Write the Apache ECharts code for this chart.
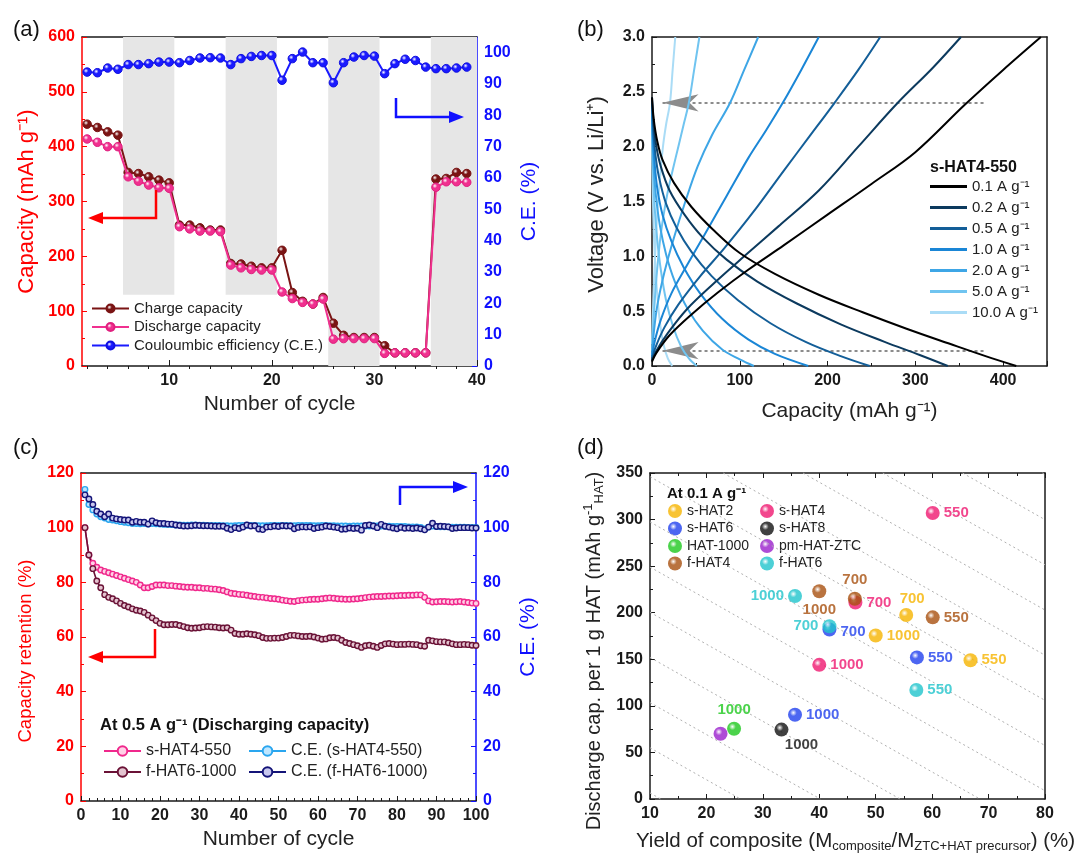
<!DOCTYPE html>
<html><head><meta charset="utf-8">
<script src="https://cdn.jsdelivr.net/npm/echarts@6/dist/echarts.min.js"></script>
<style>html,body{margin:0;padding:0;background:#fff}#c{width:1080px;height:854px}</style>
</head><body><div id="c"></div>
<script>
const FONT = "'Liberation Sans', Arial, sans-serif";

// ---------- Panel (a) ----------
const cyclesA = [2,3,4,5,6,7,8,9,10,11,12,13,14,15,16,17,18,19,20,21,22,23,24,25,26,27,28,29,30,31,32,33,34,35,36,37,38,39];
const chargeA = [441,435,427,421, 353,351,345,339,334, 257,257,252,248,248, 187,186,182,179,179, 211,134,118,113,125, 78,56,52,52,52, 37,24,24,24,24, 341,342,353,351];
const dischargeA = [414,408,400,400, 345,337,330,325,324, 254,250,246,246,245, 184,179,176,175,175, 135,123,116,113,122, 49,50,50,50,50, 23,24,24,24,24, 326,336,336,335];
const ceA = [93.8,93.6,95.1,94.7, 96.2,96.2,96.5,97.0,97.0, 96.8,97.5,98.3,98.4,98.3, 96.2,98.1,98.8,99.1,99.1, 91.2,98.1,100.2,96.8,96.8, 90.4,96.8,98.6,99.1,98.9, 93.3,96.5,97.9,97.5,95.4, 94.9,94.9,95.1,95.4];
const rateLabelsA = ['0.1','0.2','0.5','1.0','2.0','5.0','10.0','0.1 A g⁻¹'];
const rateLabelCycleA = [3.3, 8, 13, 18, 23, 28, 33, 37.4];
const greyBandsA = [[5.5,10.5],[15.5,20.5],[25.5,30.5],[35.5,40]];
const xTicksA = [10,20,30,40];

// ---------- Panel (b) ----------
const ratesB = ['0.1 A g⁻¹','0.2 A g⁻¹','0.5 A g⁻¹','1.0 A g⁻¹','2.0 A g⁻¹','5.0 A g⁻¹','10.0 A g⁻¹'];
const chargeB = [
 [[0,0.04],[5,0.12],[20,0.28],[45,0.47],[75,0.67],[110,0.88],[150,1.1],[200,1.38],[250,1.66],[300,1.95],[356,2.38],[400,2.7],[443,3.0]],
 [[0,0.05],[5,0.14],[18,0.3],[40,0.52],[70,0.75],[105,1.0],[145,1.28],[190,1.6],[235,2.0],[280,2.4],[320,2.72],[352,3.0]],
 [[0,0.06],[4,0.17],[14,0.35],[30,0.56],[55,0.82],[82,1.07],[115,1.4],[150,1.78],[180,2.1],[208,2.4],[235,2.7],[260,3.0]],
 [[0,0.08],[3,0.22],[10,0.42],[22,0.66],[40,0.92],[60,1.2],[85,1.55],[110,1.9],[130,2.15],[149,2.4],[170,2.7],[190,3.0]],
 [[0,0.1],[2,0.3],[6,0.55],[14,0.85],[25,1.17],[38,1.5],[52,1.82],[68,2.1],[89,2.4],[105,2.7],[121,3.0]],
 [[0,0.14],[2,0.45],[5,0.8],[10,1.2],[17,1.55],[24,1.8],[30,2.0],[36,2.2],[42,2.4],[48,2.7],[54,3.0]],
 [[0,0.2],[1.5,0.6],[3.5,1.0],[6,1.4],[9,1.7],[12.5,2.0],[16,2.2],[20.5,2.4],[23.5,2.7],[26.5,3.0]]
];
const dischargeB = [
 [[0,2.45],[2,2.25],[6,2.05],[12,1.88],[25,1.67],[45,1.45],[70,1.24],[100,1.03],[140,0.84],[190,0.65],[240,0.49],[290,0.34],[340,0.2],[380,0.09],[415,0]],
 [[0,2.45],[2,2.2],[5,2.0],[10,1.82],[20,1.6],[37,1.38],[58,1.17],[85,0.97],[120,0.77],[165,0.57],[215,0.38],[265,0.22],[305,0.1],[337,0]],
 [[0,2.42],[1.5,2.15],[4,1.92],[8,1.72],[16,1.48],[28,1.26],[45,1.04],[68,0.82],[98,0.6],[135,0.39],[175,0.22],[215,0.09],[248,0]],
 [[0,2.4],[1,2.1],[3,1.85],[6,1.62],[12,1.38],[22,1.14],[36,0.9],[55,0.66],[80,0.43],[110,0.24],[140,0.11],[178,0]],
 [[0,2.35],[0.7,2.05],[2,1.8],[4.5,1.55],[9,1.28],[16,1.02],[26,0.77],[40,0.53],[58,0.32],[80,0.15],[100,0.06],[116,0]],
 [[0,2.3],[0.5,2.0],[1.5,1.72],[3,1.45],[6,1.15],[10,0.88],[16,0.6],[24,0.36],[33,0.18],[42,0.07],[51,0]],
 [[0,2.2],[0.4,1.85],[1,1.55],[2,1.25],[3.5,0.95],[6,0.65],[9,0.4],[13,0.2],[18,0.07],[23,0]]
];
const arrowLevelsB = [2.4, 0.14];
const arrowSpanB = [12, 380];

// ---------- Panel (c) ----------
const cyclesC = Array.from({length:100},(_,i)=>i+1);
const retS = [100,90,87,85.5,84.5,84,83.5,83,82.5,82, 81.5,81,80.5,80,79,78,78,78.5,79,79, 79,78.8,78.8,78.6,78.5,78.3,78.2,78.2,78,78, 77.8,77.8,77.6,77.5,77.3,77,76.5,76,75.8,75.6, 75.5,75.3,75,74.8,74.6,74.5,74.3,74.1,74,73.8, 73.5,73.3,73.1,73,73.3,73.5,73.6,73.7,73.8,73.8, 74,74.2,74.3,74.2,74,73.9,73.8,73.8,73.9,74, 74.2,74.4,74.6,74.7,74.8,74.8,74.9,75,75,75.1, 75.2,75.2,75.3,75.3,75.4,75.4,74.5,73.2,72.8,72.9, 73,73,72.9,72.8,72.9,73,72.8,72.6,72.4,72.3];
const retF = [100,90,85,80.5,78,75.5,74.5,74,73.2,72.3, 71.5,71,70.3,69.8,69.5,69,68,67,66,65, 64.5,64.5,64.6,64.6,64.2,63.8,63.4,63.2,63.3,63.4, 63.7,63.8,63.7,63.6,63.4,63.3,63.4,62.5,61.3,61, 61,61.2,61,60.8,60.5,59.8,59.5,59.5,59.6,59.6, 59.8,60.2,60.6,60.6,60.4,60.2,60.2,60.3,60,59.6, 59.2,59.3,59.7,59.8,59.6,58.8,58,57.6,57.2,56.8, 56.2,56.8,57,56.6,56.2,56.9,57.5,57.6,57.4,57.2, 57.3,57.3,57.4,57.3,57.2,56.8,56.6,58.8,58.6,58.3, 58.2,58.2,57.9,57.5,57.2,57.2,57.3,57.2,57,56.9];
const ceS = [114,108.5,106.5,105,104,103.5,103,102.8,102.5,102.2, 102,101.8,101.5,101.5,101.4,101.5,101.3,101.5,101.4,101.3, 101.2,101.2,101.1,101,101,100.9,100.9,101,101,100.9, 100.9,100.8,100.8,100.8,100.8,100.7,100.7,100.6,100.7,100.8, 100.8,100.9,100.8,100.8,100.7,100.7,100.7,100.8,100.8,100.8, 100.8,100.8,100.7,100.7,100.8,100.8,100.8,100.8,100.7,100.7, 100.8,100.8,100.7,100.7,100.6,100.6,100.6,100.5,100.6,100.6, 100.6,100.6,100.6,100.7,100.6,100.6,100.5,100.5,100.4,100.4, 100.4,100.4,100.3,100.3,100.3,100.1,99.5,100.2,100.6,100.4, 100.3,100.3,100.3,100.2,100.2,100.2,100.2,100.1,100.1,100.1];
const ceF = [112,110.5,108.5,106,105,104,105,103.5,103.2,103, 102.8,102.8,102,102.3,102,102,101.3,102.5,101.8,101.5, 101.5,101.3,101.3,101,100.8,100.6,100.6,100.7,100.9,100.8, 100.7,100.7,100.6,100.5,100.5,100.5,99.8,99.3,100,99.7, 100.2,101,100.6,100.7,99.5,99.3,100.2,100.3,100.6,100.4, 100.7,100.6,100.6,99.6,100.1,100.3,100.2,100.3,99.7,100, 100.2,100.6,100.4,100.2,100,99.4,99.5,99.9,99.7,99.8, 99.1,100.8,101,100.6,100,101.2,100.5,100.2,99.9,99.6, 100.1,99.8,99.9,99.7,99.9,99.6,99.2,100.2,101.6,100.4, 100.5,100.4,100.3,99.7,99.9,100,100,100,99.9,99.9];

// ---------- Panel (d) ----------
const groupsD = ['s-HAT2','s-HAT4','s-HAT6','s-HAT8','HAT-1000','pm-HAT-ZTC','f-HAT4','f-HAT6'];
const yieldD = {
 's-HAT2':[55.4,50.0,66.8], 's-HAT4':[60.1,46.4,40.0], 's-HAT6':[41.8,57.3,35.7], 's-HAT8':[33.3],
 'HAT-1000':[24.9], 'pm-HAT-ZTC':[22.5], 'f-HAT4':[40.0,46.3,60.1], 'f-HAT6':[35.7,41.8,57.2]
};
const capD = {
 's-HAT2':[197.5,175.5,149], 's-HAT4':[307,211,144], 's-HAT6':[182,152,90.5], 's-HAT8':[74.5],
 'HAT-1000':[75.5], 'pm-HAT-ZTC':[70], 'f-HAT4':[223,215,195], 'f-HAT6':[218,185.5,117]
};
const tempD = {
 's-HAT2':['700','1000','550'], 's-HAT4':['550','700','1000'], 's-HAT6':['700','550','1000'], 's-HAT8':['1000'],
 'HAT-1000':['1000'], 'pm-HAT-ZTC':[''], 'f-HAT4':['1000','700','550'], 'f-HAT6':['1000','700','550']
};
const guideInterceptsD = [6.5,55,103.5,152,200.5,249,297.5,346,394.5,443,491.5,540,588.5];
const guideSlopeD = -3.43;

// ---------- styles ----------
const colD = {'s-HAT2':'#f6b400','s-HAT4':'#ef1870','s-HAT6':'#2040ee','s-HAT8':'#111111','HAT-1000':'#1ec81e','pm-HAT-ZTC':'#9a20cc','f-HAT4':'#a8500f','f-HAT6':'#20c4cc'};
const labelPosD = {
 's-HAT2':[{position:'top',offset:[6,2]},{position:'right'},{position:'right'}],
 's-HAT4':[{position:'right'},{position:'right'},{position:'right'}],
 's-HAT6':[{position:'right',offset:[0,2]},{position:'right'},{position:'right'}],
 's-HAT8':[{position:'bottom',offset:[20,-3]}],
 'HAT-1000':[{position:'top'}],
 'pm-HAT-ZTC':[{position:'top'}],
 'f-HAT4':[{position:'bottom'},{position:'top'},{position:'right'}],
 'f-HAT6':[{position:'left'},{position:'left'},{position:'right'}]
};
const colB = ['#000000','#0c3a5e','#135e98','#1a86d6','#3ea6e6','#70c4f0','#aadcf6'];
const RED='#ff0000', BLUE='#1010ff', DARK='#1a1a1a';

function ball(c){
  return {type:'radial',x:0.38,y:0.36,r:0.7,colorStops:[{offset:0,color:'#ffffff'},{offset:0.35,color:c},{offset:1,color:c}]};
}
const tickLbl = (color)=>({fontSize:16,fontWeight:'bold',color:color,fontFamily:FONT,margin:7});
const nameStyle = (color,size)=>({fontSize:size||21,color:color,fontFamily:FONT});

function xAx(grid, o){
  return Object.assign({gridIndex:grid,type:'value',splitLine:{show:false},
    axisLine:{onZero:false,lineStyle:{color:DARK,width:1.5}},
    axisTick:{inside:true,length:5,lineStyle:{color:DARK}},
    minorTick:{show:false},
    axisLabel:tickLbl(DARK)}, o);
}

const series = [];
// (a) bands
series.push({type:'line',xAxisIndex:0,yAxisIndex:0,data:[],z:0,silent:true,
  markArea:{silent:true,itemStyle:{color:'#e6e6e6'},data:greyBandsA.map((b,i)=>[{xAxis:b[0],yAxis:i<2?130:0},{xAxis:b[1],yAxis:600}])}});
series.push({name:'Charge capacity',type:'line',xAxisIndex:0,yAxisIndex:0,data:cyclesA.map((c,i)=>[c,chargeA[i]]),
  symbol:'circle',symbolSize:8.5,lineStyle:{color:'#7a1414',width:2},itemStyle:{color:ball('#7a1414'),borderColor:'#7a1414',borderWidth:1},z:3});
series.push({name:'Discharge capacity',type:'line',xAxisIndex:0,yAxisIndex:0,data:cyclesA.map((c,i)=>[c,dischargeA[i]]),
  symbol:'circle',symbolSize:8.5,lineStyle:{color:'#f0308f',width:2},itemStyle:{color:ball('#f0308f'),borderColor:'#e0207f',borderWidth:1},z:4});
series.push({name:'Couloumbic efficiency (C.E.)',type:'line',xAxisIndex:0,yAxisIndex:1,data:cyclesA.map((c,i)=>[c,ceA[i]]),
  symbol:'circle',symbolSize:8.5,lineStyle:{color:'#1a1aff',width:2},itemStyle:{color:ball('#1a1aff'),borderColor:'#1010e0',borderWidth:1},z:4});
series.push({type:'scatter',xAxisIndex:0,yAxisIndex:0,symbolSize:1,itemStyle:{opacity:0},silent:true,
  data:rateLabelCycleA.map((x,i)=>[x,512,rateLabelsA[i]]),
  label:{show:true,position:'inside',formatter:p=>p.data[2],fontSize:12,fontWeight:'bold',color:'#111',fontFamily:FONT}});

// (b)
ratesB.forEach((r,i)=>{
  series.push({name:r,type:'line',xAxisIndex:2,yAxisIndex:2,data:chargeB[i],smooth:0.35,symbol:'none',
    lineStyle:{color:colB[i],width:2},itemStyle:{color:colB[i]},z:10-i});
  series.push({name:r,type:'line',xAxisIndex:2,yAxisIndex:2,data:dischargeB[i],smooth:0.35,symbol:'none',
    lineStyle:{color:colB[i],width:2},itemStyle:{color:colB[i]},z:10-i});
});
series.push({type:'line',xAxisIndex:2,yAxisIndex:2,data:[],silent:true,z:12,
  markLine:{silent:true,symbol:['arrow','none'],symbolSize:[13,36],label:{show:false},
    lineStyle:{color:'#8c8c8c',type:[3,3],width:2},itemStyle:{color:'#8c8c8c'},
    data:arrowLevelsB.map(v=>[{coord:[arrowSpanB[0],v]},{coord:[arrowSpanB[1],v]}])}});

// (c)
const mk = (name,data,yi,color,fill,w)=>({name,type:'line',xAxisIndex:4,yAxisIndex:yi,data:cyclesC.map((c,i)=>[c,data[i]]),
  symbol:'circle',symbolSize:5.5,lineStyle:{color,width:w||1.6},itemStyle:{color:fill,borderColor:color,borderWidth:1.4}});
series.push(mk('C.E. (s-HAT4-550)',ceS,5,'#2aa6ef','#bfe6ff'));
series.push(mk('C.E. (f-HAT6-1000)',ceF,5,'#141478','#c8c8ee'));
series.push(mk('s-HAT4-550',retS,4,'#f0288c','#ffd0e6'));
series.push(mk('f-HAT6-1000',retF,4,'#6a1236','#e4c4d0'));

// (d) guide lines
function clipGuide(b){
  const s=guideSlopeD;
  const yAt=x=>b+s*(x-10);
  let x0=10,y0=yAt(10); if(y0>350){x0=10+(350-b)/s;y0=350;}
  let x1=80,y1=yAt(80); if(y1<0){x1=10+(0-b)/s;y1=0;}
  return [{coord:[x0,y0]},{coord:[x1,y1]}];
}
series.push({type:'line',xAxisIndex:6,yAxisIndex:6,data:[],silent:true,z:1,
  markLine:{silent:true,symbol:['none','none'],label:{show:false},animation:false,
    lineStyle:{color:'#b0b0b0',type:[2,3],width:1},
    data:guideInterceptsD.filter(b=>b>0).map(clipGuide).filter(d=>d[0].coord[0]<d[1].coord[0])}});
groupsD.forEach(g=>{
  series.push({name:g,type:'scatter',xAxisIndex:6,yAxisIndex:6,symbol:'circle',symbolSize:14,z:5,
    itemStyle:{color:ball(colD[g])},
    data:yieldD[g].map((x,i)=>({value:[x,capD[g][i]],name:tempD[g][i],label:labelPosD[g][i]})),
    label:{show:true,formatter:'{b}',fontSize:15,fontWeight:'bold',color:colD[g],fontFamily:FONT,distance:4}});
});

const legBase = {orient:'vertical',padding:0,selectedMode:false};
const option = {
  animation:false,
  backgroundColor:'#fff',
  textStyle:{fontFamily:FONT},
  title:[
    {text:'(a)',left:8,top:14,textStyle:{fontSize:22,fontWeight:'normal',color:'#111'}},
    {text:'(b)',left:572,top:14,textStyle:{fontSize:22,fontWeight:'normal',color:'#111'}},
    {text:'(c)',left:8,top:432,textStyle:{fontSize:22,fontWeight:'normal',color:'#111'}},
    {text:'(d)',left:572,top:432,textStyle:{fontSize:22,fontWeight:'normal',color:'#111'}},
    {text:'s-HAT4-550',left:925,top:155,textStyle:{fontSize:16,fontWeight:'bold',color:'#111'}},
    {text:'At 0.5 A g⁻¹ (Discharging capacity)',left:95,top:712,textStyle:{fontSize:16.5,fontWeight:'bold',color:'#111'}},
    {text:'At 0.1 A g⁻¹',left:662,top:481,textStyle:{fontSize:15,fontWeight:'bold',color:'#111'}}
  ],
  legend:[
    Object.assign({data:['Charge capacity','Discharge capacity','Couloumbic efficiency (C.E.)'],left:91,top:301,
     itemWidth:37,itemHeight:10,itemGap:3.5,textStyle:{fontSize:15,color:'#222'}},legBase),
    Object.assign({data:ratesB,left:930,top:179,itemWidth:37,itemHeight:3,itemGap:6,icon:'rect',
     textStyle:{fontSize:15,color:'#222'}},legBase),
    Object.assign({data:['s-HAT4-550','f-HAT6-1000'],left:103,top:743,itemWidth:37,itemHeight:12,itemGap:5,
     textStyle:{fontSize:16,color:'#222'}},legBase),
    Object.assign({data:['C.E. (s-HAT4-550)','C.E. (f-HAT6-1000)'],left:248,top:743,itemWidth:37,itemHeight:12,itemGap:5,
     textStyle:{fontSize:16,color:'#222'}},legBase),
    Object.assign({data:['s-HAT2','s-HAT6','HAT-1000','f-HAT4'],left:668,top:504,itemWidth:14,itemHeight:14,itemGap:3.5,
     textStyle:{fontSize:14,color:'#222'}},legBase),
    Object.assign({data:['s-HAT4','s-HAT8','pm-HAT-ZTC','f-HAT6'],left:760,top:504,itemWidth:14,itemHeight:14,itemGap:3.5,
     textStyle:{fontSize:14,color:'#222'}},legBase)
  ],
  grid:[
    {left:82,top:37,width:395,height:329},
    {left:652,top:37,width:395,height:329},
    {left:81,top:473,width:395,height:328},
    {left:650,top:473,width:395,height:329}
  ],
  xAxis:[
    xAx(0,{min:1.5,max:40,axisTick:{inside:true,length:6,customValues:xTicksA,lineStyle:{color:DARK}},
      axisLabel:Object.assign(tickLbl(DARK),{customValues:xTicksA}),
      name:'Number of cycle',nameLocation:'middle',nameGap:28,nameTextStyle:nameStyle('#222')}),
    xAx(0,{min:1.5,max:40,position:'top',axisTick:{show:false},axisLabel:{show:false}}),
    xAx(1,{min:0,max:450,interval:100,minorTick:{show:true,splitNumber:2,length:3},axisLabel:Object.assign(tickLbl(DARK),{showMaxLabel:false}),
      name:'Capacity (mAh g⁻¹)',nameLocation:'middle',nameGap:35,nameTextStyle:nameStyle('#222')}),
    xAx(1,{min:0,max:450,position:'top',axisTick:{show:false},axisLabel:{show:false}}),
    xAx(2,{min:0,max:100,interval:10,minorTick:{show:true,splitNumber:5,length:3,lineStyle:{color:DARK}},
      name:'Number of cycle',nameLocation:'middle',nameGap:28,nameTextStyle:nameStyle('#222')}),
    xAx(2,{min:0,max:100,position:'top',axisTick:{show:false},axisLabel:{show:false}}),
    xAx(3,{min:10,max:80,interval:10,minorTick:{show:true,splitNumber:2,length:3},
      name:'Yield of composite (M{sub|composite}/M{sub|ZTC+HAT precursor}) (%)',nameLocation:'middle',nameGap:30,
      nameTextStyle:Object.assign(nameStyle('#222',20.5),{lineHeight:24,padding:[0,0,0,16],rich:{sub:{fontSize:13,verticalAlign:'bottom',lineHeight:20,color:'#222',padding:[6,0,0,0]}}})}),
    xAx(3,{min:10,max:80,interval:10,position:'top',minorTick:{show:true,splitNumber:2,length:3},axisLabel:{show:false}}),
    xAx(0,{min:1.5,max:40,axisLine:{show:false},axisTick:{inside:true,length:3,customValues:[2,4,6,8,12,14,16,18,22,24,26,28,32,34,36,38],lineStyle:{color:DARK}},axisLabel:{show:false}})
  ],
  yAxis:[
    xAx(0,{min:0,max:600,interval:100,axisLine:{onZero:false,lineStyle:{color:RED,width:1.5}},
      axisTick:{inside:true,length:5,lineStyle:{color:RED}},minorTick:{show:true,splitNumber:2,length:3,lineStyle:{color:RED}},
      axisLabel:tickLbl(RED),name:'Capacity (mAh g⁻¹)',nameLocation:'middle',nameGap:44,nameTextStyle:nameStyle(RED,22)}),
    xAx(0,{min:0,max:105,interval:10,position:'right',axisLine:{onZero:false,lineStyle:{color:BLUE,width:1.5}},
      axisTick:{inside:true,length:5,lineStyle:{color:BLUE}},minorTick:{show:true,splitNumber:2,length:3,lineStyle:{color:BLUE}},
      axisLabel:Object.assign(tickLbl(BLUE),{showMaxLabel:false}),name:'C.E. (%)',nameLocation:'middle',nameGap:42,nameTextStyle:nameStyle(BLUE)}),
    xAx(1,{min:0,max:3,interval:0.5,minorTick:{show:true,splitNumber:2,length:3},
      axisLabel:Object.assign(tickLbl(DARK),{formatter:v=>v.toFixed(1)}),
      name:'Voltage (V vs. Li/Li⁺)',nameLocation:'middle',nameGap:44,nameTextStyle:Object.assign(nameStyle('#222',22),{padding:[0,0,0,14]})}),
    xAx(1,{min:0,max:3,position:'right',axisTick:{show:false},axisLabel:{show:false}}),
    xAx(2,{min:0,max:120,interval:20,axisLine:{onZero:false,lineStyle:{color:RED,width:1.5}},
      axisTick:{inside:true,length:5,lineStyle:{color:RED}},minorTick:{show:true,splitNumber:2,length:3,lineStyle:{color:RED}},
      axisLabel:tickLbl(RED),name:'Capacity retention (%)',nameLocation:'middle',nameGap:46,nameTextStyle:Object.assign(nameStyle(RED,18.5),{padding:[0,28,0,0]})}),
    xAx(2,{min:0,max:120,interval:20,position:'right',axisLine:{onZero:false,lineStyle:{color:BLUE,width:1.5}},
      axisTick:{inside:true,length:5,lineStyle:{color:BLUE}},minorTick:{show:true,splitNumber:2,length:3,lineStyle:{color:BLUE}},
      axisLabel:tickLbl(BLUE),name:'C.E. (%)',nameLocation:'middle',nameGap:42,nameTextStyle:nameStyle(BLUE)}),
    xAx(3,{min:0,max:350,interval:50,minorTick:{show:true,splitNumber:2,length:3},
      name:'Discharge cap. per 1 g HAT (mAh g{sup|-1}{sub|HAT})',nameLocation:'middle',nameGap:44,
      nameTextStyle:Object.assign(nameStyle('#222',20),{lineHeight:24,padding:[0,30,0,0],rich:{sub:{fontSize:13,color:'#222',verticalAlign:'bottom',padding:[6,0,0,0]},sup:{fontSize:13,color:'#222',verticalAlign:'top',padding:[0,0,6,0]}}})}),
    xAx(3,{min:0,max:350,position:'right',axisTick:{show:false},axisLabel:{show:false}})
  ],
  graphic:[
    {type:'polyline',shape:{points:[[156,190],[156,218],[101,218]]},style:{stroke:RED,lineWidth:2.5,fill:null},z:50},
    {type:'polygon',shape:{points:[[88,218],[103,212],[103,224]]},style:{fill:RED},z:50},
    {type:'polyline',shape:{points:[[396,98],[396,117],[451,117]]},style:{stroke:BLUE,lineWidth:2.5,fill:null},z:50},
    {type:'polygon',shape:{points:[[464,117],[449,111],[449,123]]},style:{fill:BLUE},z:50},
    {type:'polyline',shape:{points:[[155,629],[155,657],[101,657]]},style:{stroke:RED,lineWidth:2.5,fill:null},z:50},
    {type:'polygon',shape:{points:[[88,657],[103,651],[103,663]]},style:{fill:RED},z:50},
    {type:'polyline',shape:{points:[[400,505],[400,487],[455,487]]},style:{stroke:BLUE,lineWidth:2.5,fill:null},z:50},
    {type:'polygon',shape:{points:[[468,487],[453,481],[453,493]]},style:{fill:BLUE},z:50}
  ],
  series
};
const chart = echarts.init(document.getElementById('c'),null,{renderer:'canvas'});
chart.setOption(option);
</script></body></html>
